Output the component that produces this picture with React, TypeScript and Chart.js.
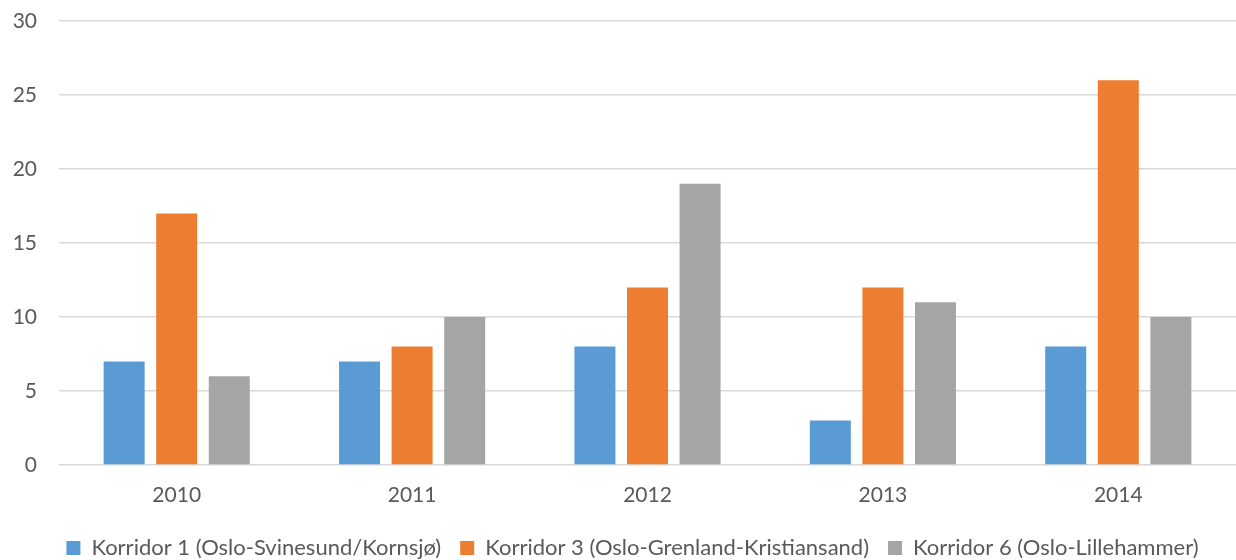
import React, { useEffect, useRef } from "react";
import { Chart, registerables } from "chart.js";

Chart.register(...registerables);

const years = ["2010", "2011", "2012", "2013", "2014"];
const korridor1 = [7, 7, 8, 3, 8];
const korridor3 = [17, 8, 12, 12, 26];
const korridor6 = [6, 10, 19, 11, 10];
const seriesNames = [
  "Korridor 1 (Oslo-Svinesund/Kornsjø)",
  "Korridor 3 (Oslo-Grenland-Kristiansand)",
  "Korridor 6 (Oslo-Lillehammer)",
];
const seriesColors = ["#5B9BD5", "#ED7D31", "#A5A5A5"];

const FONT = "Lato, 'Open Sans', sans-serif";
const TEXT = "#595959";

// Centres the bottom legend under the plot area rather than the full canvas.
const legendShift = {
  id: "legendShift",
  afterLayout(chart: any) {
    const lg = chart.legend;
    if (!lg) return;
    const shift = (chart.chartArea.left + chart.chartArea.right - lg.left - lg.right) / 2 - 15;
    lg.left += shift;
    lg.right += shift;
  },
};

export default function App() {
  const ref = useRef<HTMLCanvasElement | null>(null);

  useEffect(() => {
    if (!ref.current) return;
    const values = [korridor1, korridor3, korridor6];
    const chart = new Chart(ref.current, {
      type: "bar",
      data: {
        labels: years,
        datasets: values.map((v, i) => ({
          label: seriesNames[i],
          data: v,
          backgroundColor: seriesColors[i],
          borderWidth: 0,
          categoryPercentage: 0.67,
          barPercentage: 0.78,
        })),
      },
      options: {
        responsive: false,
        animation: false,
        layout: { padding: { top: 21, left: 12, right: -7, bottom: -9 } },
        plugins: {
          tooltip: { enabled: false },
          legend: {
            position: "bottom",
            labels: {
              font: { family: FONT, size: 22 },
              color: TEXT,
              boxWidth: 14,
              boxHeight: 14,
              padding: 19,
            },
          },
        },
        scales: {
          x: {
            grid: { display: false, drawTicks: false },
            border: { display: false },
            ticks: { font: { family: FONT, size: 21 }, color: TEXT, padding: 18 },
            afterFit: (scale: any) => {
              scale.height = 53;
            },
          },
          y: {
            min: 0,
            max: 30,
            ticks: {
              stepSize: 5,
              font: { family: FONT, size: 21 },
              color: TEXT,
              padding: 22,
            },
            grid: { color: "#D9D9D9", lineWidth: 1.5, drawTicks: false },
            border: { display: false },
            afterFit: (scale: any) => {
              scale.width = 47;
              scale.paddingTop = 0;
              scale.paddingBottom = 0;
            },
          },
        },
      },
      plugins: [legendShift],
    });
    return () => chart.destroy();
  }, []);

  return (
    <div style={{ position: "fixed", left: 0, top: 0, width: 1236, height: 560, background: "#fff" }}>
      <canvas ref={ref} width={1236} height={560} />
    </div>
  );
}
